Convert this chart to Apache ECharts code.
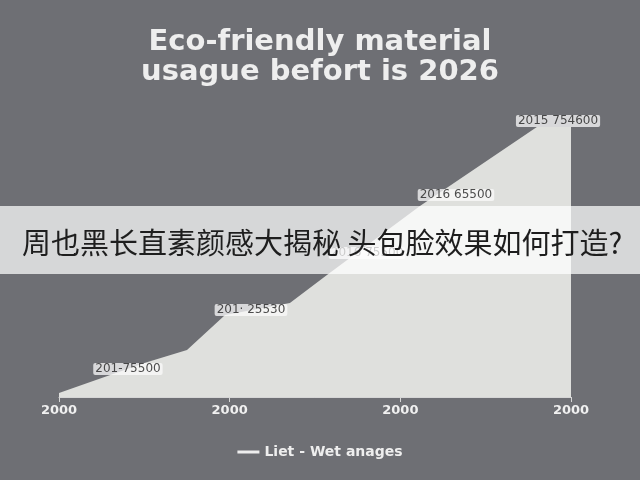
<!DOCTYPE html>
<html>
<head>
<meta charset="utf-8">
<script src="https://cdn.jsdelivr.net/npm/echarts@6/dist/echarts.min.js"></script>
<style>html,body{margin:0;padding:0;background:#6e6f74;}#c{width:640px;height:480px;}</style>
</head>
<body>
<div id="c"></div>
<script>
// x positions in axis units (0..3), y values in relative units
var areaX = [0, 0.5, 0.75, 0.973, 1.353, 1.57, 2.115, 2.80, 3.0];
var areaY = [1.5, 12.6, 17.4, 30.4, 34.8, 45.2, 70.7, 100, 100];
var tickLabels = ['2000', '2000', '2000', '2000'];
var noteX = [0.404, 1.125, 1.805, 2.326, 2.924];
var noteY = [10.4, 32.2, 53.3, 74.8, 102.2];
var noteText = ['201-75500', '201\u00b7 25530', '2016 75500', '2016 65500', '2015 754600'];
var seriesName = 'Liet - Wet anages';
var titleText = 'Eco-friendly material\nusague befort is 2026';
var bannerText = '周也黑长直素颜感大揭秘 头包脸效果如何打造?';

var chart = echarts.init(document.getElementById('c'));
var areaData = areaX.map(function (x, i) { return [x, areaY[i]]; });
var noteData = noteX.map(function (x, i) { return { value: [x, noteY[i]], name: noteText[i] }; });

chart.setOption({
  backgroundColor: '#6e6f74',
  animation: false,
  title: {
    text: titleText,
    left: 'center',
    top: 22,
    textStyle: { color: '#eeeeee', fontSize: 29, fontWeight: 'bold', fontFamily: 'DejaVu Sans', lineHeight: 30 }
  },
  legend: {
    bottom: 16,
    left: 'center',
    icon: 'rect',
    itemWidth: 22,
    itemHeight: 3,
    itemGap: 6,
    data: [{ name: seriesName, itemStyle: { color: '#eeeeee' } }],
    textStyle: { color: '#eeeeee', fontSize: 14, fontWeight: 'bold', fontFamily: 'DejaVu Sans' }
  },
  grid: { left: 59, right: 69, top: 100, bottom: 83 },
  xAxis: {
    type: 'value',
    min: 0, max: 3, interval: 1,
    axisLine: { show: true, lineStyle: { color: '#d6d6d6', width: 1 } },
    axisTick: { show: true, length: 5, lineStyle: { color: '#d6d6d6' } },
    splitLine: { show: false },
    axisLabel: {
      color: '#f0f0f0', fontSize: 13, fontWeight: 'bold', fontFamily: 'DejaVu Sans', margin: 7,
      formatter: function (v) { return tickLabels[Math.round(v)]; }
    }
  },
  yAxis: { type: 'value', min: 0, max: 110, show: false },
  series: [
    {
      name: seriesName,
      type: 'line',
      data: areaData,
      symbol: 'none',
      itemStyle: { color: '#eeeeee' },
      lineStyle: { width: 0 },
      areaStyle: { color: '#dfe0dd', opacity: 1 },
      z: 2
    },
    {
      name: 'notes',
      type: 'scatter',
      data: noteData,
      symbolSize: 0,
      clip: false,
      z: 5,
      label: {
        show: true,
        position: 'inside',
        formatter: function (p) { return p.name; },
        color: '#222222',
        fontSize: 12,
        fontFamily: 'DejaVu Sans',
        backgroundColor: 'rgba(250,250,250,0.95)',
        padding: [0, 2],
        borderRadius: 2
      }
    }
  ],
  graphic: {
    elements: [
      {
        type: 'rect',
        z: 100,
        shape: { x: 0, y: 206, width: 640, height: 68 },
        style: { fill: 'rgba(255,255,255,0.72)' }
      },
      {
        type: 'text',
        z: 101,
        x: 22,
        y: 243,
        style: {
          text: bannerText,
          fill: '#1e1e1e',
          fontSize: 29,
          fontFamily: 'Noto Sans CJK SC',
          verticalAlign: 'middle',
          align: 'left'
        }
      }
    ]
  }
});
</script>
</body>
</html>
